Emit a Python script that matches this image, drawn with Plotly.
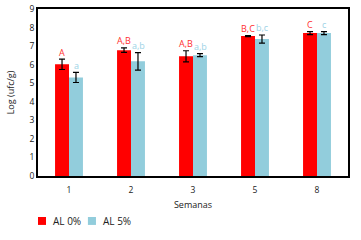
import plotly.graph_objects as go

semanas = ["1", "2", "3", "5", "8"]
al0 = [6.02, 6.78, 6.45, 7.54, 7.70]
al0_err = [0.28, 0.12, 0.30, 0.03, 0.08]
al5 = [5.31, 6.18, 6.51, 7.38, 7.70]
al5_err = [0.27, 0.47, 0.08, 0.22, 0.08]
lab0 = ["A", "A,B", "A,B", "B,C", "C"]
lab5 = ["a", "a,b", "a,b", "b,c", "c"]
series_names = ["AL 0%", "AL 5%"]

RED = "#ff0000"
BLUE = "#92cddc"
FONT = "Open Sans, DejaVu Sans, sans-serif"

fig = go.Figure()
fig.add_trace(go.Bar(
    x=semanas, y=al0, name=series_names[0], marker_color=RED, marker_line_width=0,
    error_y=dict(type="data", array=al0_err, color="black", thickness=1.2, width=3),
))
fig.add_trace(go.Bar(
    x=semanas, y=al5, name=series_names[1], marker_color=BLUE, marker_line_width=0,
    error_y=dict(type="data", array=al5_err, color="black", thickness=1.2, width=3),
))

for i, s in enumerate(semanas):
    fig.add_annotation(x=i, y=al0[i] + al0_err[i], text=lab0[i], showarrow=False,
                       xref="x", yref="y", xshift=-7, yshift=7,
                       font=dict(color="#ff3030", size=9, family=FONT))
    fig.add_annotation(x=i, y=al5[i] + al5_err[i], text=lab5[i], showarrow=False,
                       xref="x", yref="y", xshift=7, yshift=7,
                       font=dict(color="#9dd3e6", size=9, family=FONT))

# legend drawn manually (compact, like reference)
leg = [(0.0, 0.0258, 0.042, RED), (0.161, 0.187, 0.203, BLUE)]
for (x0, x1, xt, c), nm in zip(leg, series_names):
    fig.add_shape(type="rect", xref="paper", yref="paper", x0=x0, x1=x1,
                  y0=-0.293, y1=-0.2455, fillcolor=c, line_width=0)
    fig.add_annotation(xref="paper", yref="paper", x=xt, y=-0.269, text=nm,
                       showarrow=False, xanchor="left", yanchor="middle",
                       font=dict(size=10, color="#222", family=FONT))

fig.update_layout(
    width=361, height=240,
    margin=dict(l=38, r=13, t=9, b=64, autoexpand=False),
    paper_bgcolor="white", plot_bgcolor="white",
    bargap=0.55, bargroupgap=0,
    font=dict(family=FONT, size=8, color="#222"),
    showlegend=False,
    xaxis=dict(type="category",
               title=dict(text="Semanas", font=dict(size=9), standoff=7),
               showline=True, linecolor="black", linewidth=2, mirror=True,
               ticks="outside", ticklen=5, tickcolor="rgba(0,0,0,0)",
               showgrid=False, tickfont=dict(size=8.5)),
    yaxis=dict(title=dict(text="Log (ufc/g)", font=dict(size=9), standoff=13),
               range=[0, 9], dtick=1,
               showline=True, linecolor="black", linewidth=2, mirror=True,
               ticks="", showgrid=False, zeroline=False, tickfont=dict(size=8.5)),
)

fig.write_html("out.html", config={"displayModeBar": False},
               post_script="document.body.style.margin='0';document.body.style.overflow='hidden';")
